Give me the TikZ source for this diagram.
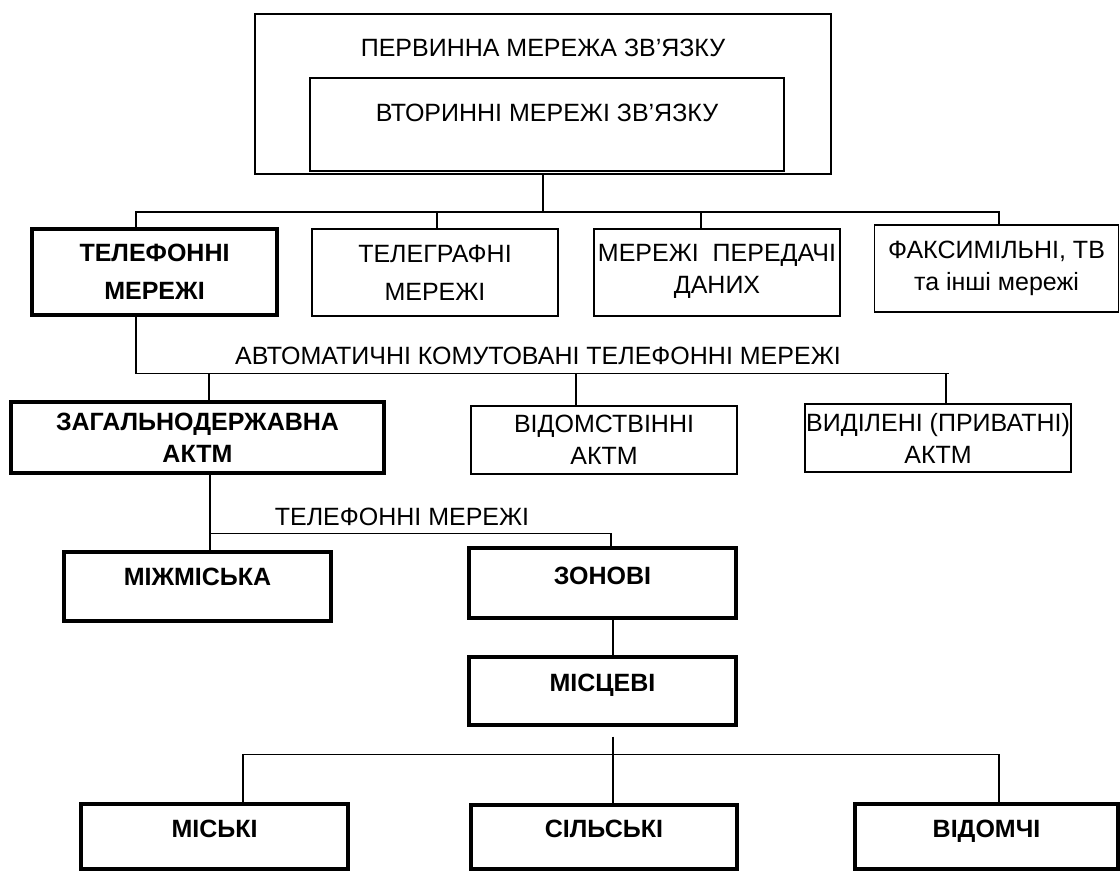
\documentclass[tikz,border=0pt]{standalone}
\usepackage{fontspec}
\setmainfont{Liberation Sans}
\usepackage{tikz}
\usetikzlibrary{calc,positioning}
\newcommand\netfont{\fontsize{12.5}{16}\selectfont}
\tikzset{
  netbox/.style={ % plain box of a network
    draw, rectangle, line width=0.8pt,
    inner sep=0pt, align=center, text=black,
    font=\netfont
  },
  mainbox/.style={ % box of the branch that is followed
    netbox, line width=1.6pt, font=\netfont\bfseries
  },
  onerow/.style={ % single line of text sits a bit high
    text depth=8pt
  },
  conn/.style={
    draw, line width=0.8pt
  },
  buslabel/.style={
    font=\netfont, inner sep=0pt
  }
}

\begin{document}
\begin{tikzpicture}[x=0.5pt, y=-0.5pt]
      \useasboundingbox (0,0) rectangle (1120,871);

      \node[netbox, line width=1pt, minimum width=288pt, minimum height=80pt] (prim) at (543,94) {};
      \node[buslabel] (primlbl) at (543,48) {ПЕРВИННА МЕРЕЖА ЗВ’ЯЗКУ};
      \node[netbox, line width=1pt, minimum width=237pt, minimum height=46.5pt, text depth=12pt] (sec) at (547,124.5) {ВТОРИННІ МЕРЕЖІ ЗВ’ЯЗКУ};

      \node[mainbox, minimum width=122.5pt, minimum height=43pt] (telef) at (154.5,272) {ТЕЛЕФОННІ\\[3pt]МЕРЕЖІ};
      \node[netbox, minimum width=123pt, minimum height=43.5pt] (tlg) at (435,272.5) {ТЕЛЕГРАФНІ\\[3pt]МЕРЕЖІ};
      \node[netbox, minimum width=123pt, minimum height=43.5pt, text depth=4pt] (dani) at (717,272.5) {МЕРЕЖІ\ \ ПЕРЕДАЧІ\\ДАНИХ};
      \node[netbox, minimum width=122pt, minimum height=43.5pt, text depth=3pt] (faks) at (996.5,268.5) {ФАКСИМІЛЬНІ, ТВ\\та інші мережі};

      \node[buslabel] (aktm) at (538,356) {АВТОМАТИЧНІ КОМУТОВАНІ ТЕЛЕФОННІ МЕРЕЖІ};
      \node[mainbox, minimum width=186.5pt, minimum height=35.5pt] (zag) at (197.5,437.5) {ЗАГАЛЬНОДЕРЖАВНА\\АКТМ};
      \node[netbox, minimum width=133pt, minimum height=34pt] (vid) at (604,440) {ВІДОМСТВІННІ\\АКТМ};
      \node[netbox, minimum width=133pt, minimum height=34pt] (vyd) at (938,438) {ВИДІЛЕНІ (ПРИВАТНІ)\\АКТМ};

      \node[buslabel] (tmlbl) at (402,517) {ТЕЛЕФОННІ МЕРЕЖІ};
      \node[mainbox, onerow, minimum width=133.5pt, minimum height=34.5pt, text depth=9.5pt] (mizh) at (197.5,586.5) {МІЖМІСЬКА};
      \node[mainbox, onerow, minimum width=133.5pt, minimum height=35pt, text depth=7pt] (zon) at (602.5,583) {ЗОНОВІ};
      \node[mainbox, onerow, minimum width=133.5pt, minimum height=34pt] (misc) at (602.5,691) {МІСЦЕВІ};

      \node[mainbox, onerow, minimum width=133.5pt, minimum height=32.5pt] (misto) at (214.5,836.5) {МІСЬКІ};
      \node[mainbox, onerow, minimum width=133pt, minimum height=32pt] (sil) at (604,837) {СІЛЬСЬКІ};
      \node[mainbox, onerow, minimum width=131.5pt, minimum height=32.5pt] (vidm) at (986.5,836.5) {ВІДОМЧІ};

      % first level
      \draw[conn] (prim.south) -- ++(0,37) coordinate (hub1);
      \draw[conn] (hub1) -| ($(telef.north)+(-18.5,0)$);
      \draw[conn] (hub1) -| ($(tlg.north)+(2,0)$);
      \draw[conn] (hub1) -| ($(dani.north)+(-16,0)$);
      \draw[conn] (hub1) -| ($(faks.north)+(2.5,0)$);
      % automatic switched networks
      \draw[conn] ($(telef.south)+(-18.5,0)$) -- ++(0,57) coordinate (hub2) -- ++(813,0);
      \draw[conn] ($(zag.north)+(11.5,0)$) |- (hub2);
      \draw[conn] ($(vid.north)+(-28,0)$) |- (hub2);
      \draw[conn] ($(vyd.north)+(8,0)$) |- (hub2);
      % public network
      \draw[conn] ($(zag.south)+(12.5,0)$) -- ++(0,59) coordinate (hub3);
      \draw[conn] (hub3) -- ($(mizh.north)+(12.5,0)$);
      \draw[conn] (hub3) -| ($(zon.north)+(8.5,0)$);
      \draw[conn] ($(zon.south)+(10.5,0)$) -- ($(misc.north)+(10.5,0)$);
      % local networks
      \draw[conn] ($(misc.south)+(10.5,10)$) -- ($(sil.north)+(9,0)$);
      \coordinate (hub4) at ($(misc.south)+(10.5,28)$);
      \draw[conn] ($(misto.north)+(28.5,0)$) |- (hub4) -| ($(vidm.north)+(12.5,0)$);
    \end{tikzpicture}
\end{document}
